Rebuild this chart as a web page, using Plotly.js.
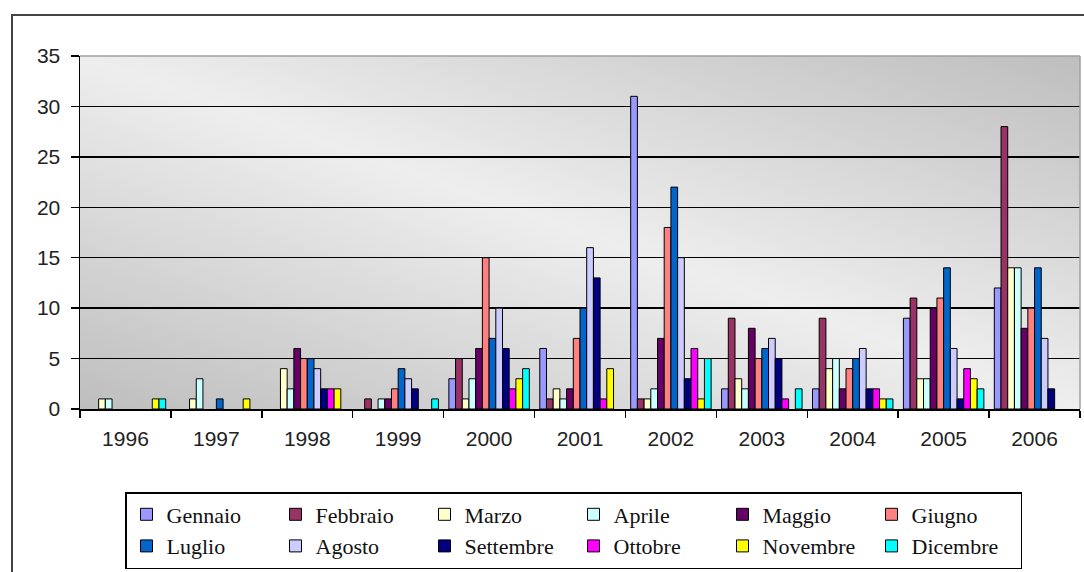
<!DOCTYPE html>
<html>
<head>
<meta charset="utf-8">
<script src="https://cdn.plot.ly/plotly-3.0.1.min.js"></script>
<style>html,body{margin:0;padding:0;background:#fff;}#chart{width:1084px;height:572px;}</style>
</head>
<body>
<div id="chart"></div>
<script>
var years = ['1996','1997','1998','1999','2000','2001','2002','2003','2004','2005','2006'];
var Gennaio   = [0,0,0,0,3,6,31,2,2,9,12];
var Febbraio  = [0,0,0,1,5,1,1,9,9,11,28];
var Marzo     = [1,1,4,0,1,2,1,3,4,3,14];
var Aprile    = [1,3,2,1,3,1,2,2,5,3,14];
var Maggio    = [0,0,6,1,6,2,7,8,2,10,8];
var Giugno    = [0,0,5,2,15,7,18,5,4,11,10];
var Luglio    = [0,1,5,4,7,10,22,6,5,14,14];
var Agosto    = [0,0,4,3,10,16,15,7,6,6,7];
var Settembre = [0,0,2,2,6,13,3,5,2,1,2];
var Ottobre   = [0,0,2,0,2,1,6,1,2,4,0];
var Novembre  = [1,1,2,0,3,4,1,0,1,3,0];
var Dicembre  = [1,0,0,1,4,0,5,2,1,2,0];
var yTicks = [0,5,10,15,20,25,30,35];

var series = [
  ['Gennaio', Gennaio, '#9999FF'],
  ['Febbraio', Febbraio, '#993366'],
  ['Marzo', Marzo, '#FFFFCC'],
  ['Aprile', Aprile, '#CCFFFF'],
  ['Maggio', Maggio, '#660066'],
  ['Giugno', Giugno, '#FF8080'],
  ['Luglio', Luglio, '#0066CC'],
  ['Agosto', Agosto, '#CCCCFF'],
  ['Settembre', Settembre, '#000080'],
  ['Ottobre', Ottobre, '#FF00FF'],
  ['Novembre', Novembre, '#FFFF00'],
  ['Dicembre', Dicembre, '#00FFFF']
];

var traces = series.map(function(s){
  return {type:'bar', name:s[0], x:years,
    y:s[1].map(function(v){ return v === 0 ? null : v; }),
    marker:{color:s[2], line:{color:'#000', width:1}}, hoverinfo:'x+y+name'};
});

var svg = '<svg xmlns="http://www.w3.org/2000/svg" width="1000" height="354" preserveAspectRatio="none">' +
  '<defs><linearGradient id="g" x1="0" y1="1" x2="1" y2="0">' +
  '<stop offset="0" stop-color="#bebebe"/><stop offset="0.5" stop-color="#eeeeee"/><stop offset="1" stop-color="#bebebe"/>' +
  '</linearGradient></defs><rect width="1000" height="354" fill="url(#g)"/></svg>';
var bgSrc = 'data:image/svg+xml;charset=utf-8,' + encodeURIComponent(svg);

var L = 80, T = 56, W = 1000, H = 354;
function px(x){ return (x - L) / W; }
function py(y){ return (T + H - y) / H; }

var layout = {
  width:1084, height:572,
  margin:{l:L, r:4, t:T, b:572-T-H, pad:0},
  paper_bgcolor:'#ffffff', plot_bgcolor:'rgba(0,0,0,0)',
  barmode:'group', bargap:0.115, bargroupgap:0,
  showlegend:true,
  font:{family:'Liberation Sans, Arial, sans-serif', color:'#222'},
  xaxis:{type:'category', showgrid:false, showline:true, linecolor:'#000', linewidth:1.5,
    ticks:'outside', tickson:'boundaries', ticklen:7, tickcolor:'#000', tickwidth:1.5,
    tickfont:{family:'Liberation Sans, Arial, sans-serif', size:21, color:'#222'},
    ticklabelstandoff:10, zeroline:false, fixedrange:true},
  yaxis:{range:[0,35], tickvals:yTicks, showgrid:true, gridcolor:'#000', gridwidth:1.3,
    showline:true, linecolor:'#000', linewidth:1.5, ticks:'outside', ticklen:8, tickcolor:'#000', tickwidth:1.5,
    tickfont:{family:'Liberation Sans, Arial, sans-serif', size:21, color:'#222'},
    ticklabelstandoff:6, zeroline:false, fixedrange:true},
  legend:{orientation:'h', x:px(125), y:py(492), xanchor:'left', yanchor:'top',
    bgcolor:'#fff', bordercolor:'#000', borderwidth:1.5,
    font:{family:'Liberation Serif, Times New Roman, serif', size:22, color:'#111'},
    entrywidth:104, entrywidthmode:'pixels', traceorder:'normal'},
  images:[{source:bgSrc, xref:'paper', yref:'paper', x:0, y:1, sizex:1, sizey:1,
    xanchor:'left', yanchor:'top', sizing:'stretch', layer:'below'}],
  shapes:[
    {type:'rect', xref:'paper', yref:'paper', x0:px(12), x1:1.02, y0:-0.6, y1:py(15),
      line:{color:'#444', width:2}, fillcolor:'rgba(0,0,0,0)', layer:'below'},
    {type:'line', xref:'paper', yref:'paper', x0:0, x1:1, y0:1, y1:1, line:{color:'#a0a0a0', width:1.5}, layer:'above'},
    {type:'line', xref:'paper', yref:'paper', x0:1, x1:1, y0:0, y1:1, line:{color:'#a0a0a0', width:1.5}, layer:'above'}
  ]
};

Plotly.newPlot('chart', traces, layout, {displayModeBar:false, staticPlot:true});
</script>
</body>
</html>
